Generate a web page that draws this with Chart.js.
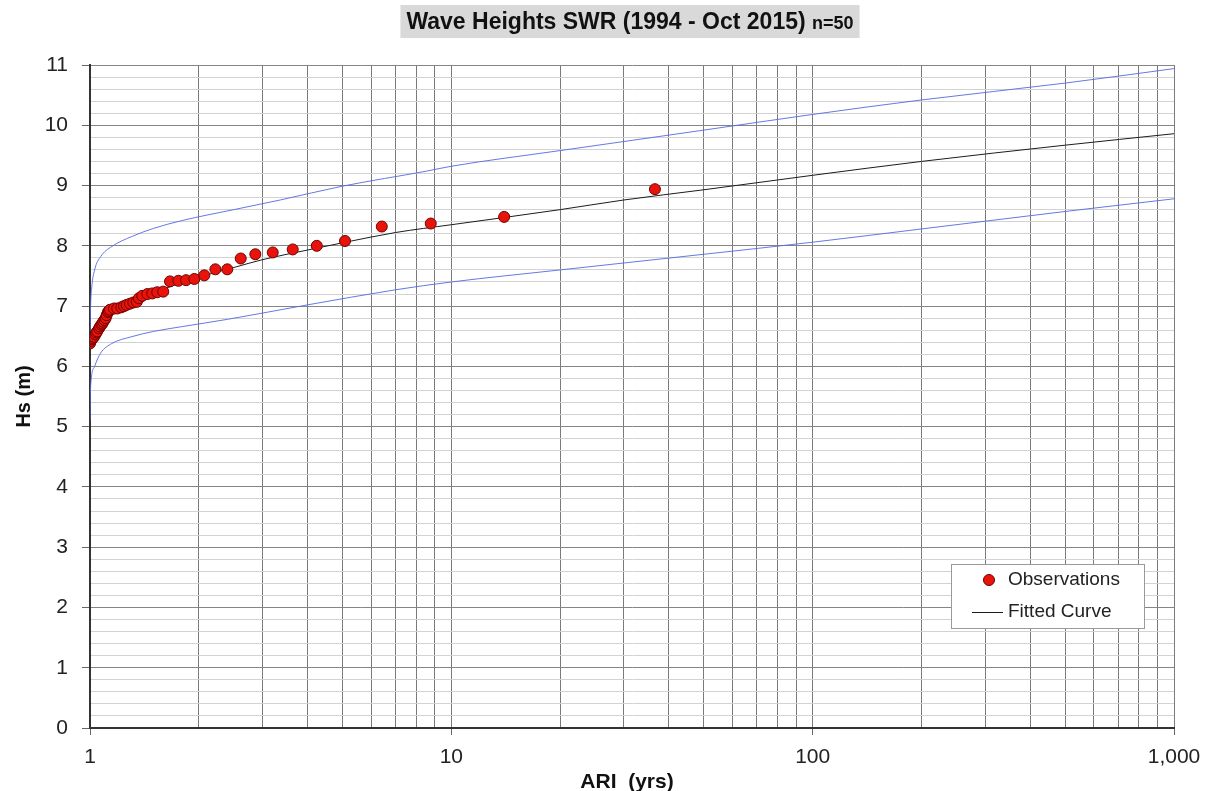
<!DOCTYPE html>
<html>
<head>
<meta charset="utf-8">
<script src="https://cdn.jsdelivr.net/npm/chart.js@4.4.1/dist/chart.umd.min.js"></script>
<style>
html,body{margin:0;padding:0;background:#fff;overflow:hidden}
canvas{display:block}
</style>
</head>
<body>
<canvas id="c" width="1213" height="791"></canvas>
<script>
// ---------- data ----------
const obsARI = [1.000,1.005,1.012,1.018,1.026,1.035,1.041,1.047,1.059,1.066,
                1.075,1.082,1.088,1.097,1.105,1.112,1.121,1.128,1.136,1.165,
                1.190,1.221,1.242,1.263,1.290,1.318,1.347,1.366,1.395,1.441,
                1.487,1.535,1.595,1.665,1.756,1.844,1.944,2.072,2.223,2.399,
                2.613,2.868,3.204,3.639,4.242,5.079,6.42,8.77,14.0,36.6];
const obsHs  = [6.38,6.42,6.45,6.47,6.49,6.53,6.56,6.58,6.63,6.66,
                6.69,6.71,6.74,6.77,6.80,6.85,6.90,6.92,6.94,6.96,
                6.96,6.98,7.00,7.02,7.04,7.06,7.07,7.13,7.17,7.20,
                7.21,7.23,7.24,7.41,7.42,7.43,7.45,7.51,7.61,7.61,
                7.79,7.86,7.89,7.94,8.00,8.08,8.32,8.37,8.48,8.94];

const fitARI = [1.0,1.02,1.05,1.1,1.2,1.3,1.5,1.7,2,2.5,3,4,5,7,10,14,20,30,50,100,200,500,1000];
const fitHs  = [6.38,6.50,6.62,6.78,6.95,7.06,7.22,7.34,7.48,7.64,7.77,7.93,8.05,8.22,8.35,8.47,8.60,8.76,8.93,9.17,9.40,9.67,9.86];

const upperARI = [1.0,1.003,1.01,1.03,1.07,1.15,1.3,1.5,1.8,2.5,3.36,5,8.55,10,20,30,50,100,200,500,1000];
const upperHs  = [6.30,6.90,7.27,7.60,7.82,7.99,8.15,8.29,8.42,8.60,8.76,8.99,9.24,9.32,9.58,9.73,9.92,10.18,10.42,10.70,10.94];

const lowerARI = [1.0,1.002,1.007,1.03,1.07,1.15,1.3,1.5,1.8,2.4,4,7,10,20,50,100,200,500,1000];
const lowerHs  = [5.10,5.50,5.77,6.00,6.22,6.38,6.49,6.58,6.66,6.78,7.02,7.27,7.40,7.60,7.86,8.06,8.28,8.57,8.78];

const xTickValues = [1,2,3,4,5,6,7,8,9,10,20,30,40,50,60,70,80,90,100,200,300,400,500,600,700,800,900,1000];
const xTickLabels = {1:'1',10:'10',100:'100',1000:'1,000'};
const yMin = 0, yMax = 11, yMinorCount = 55; // minor grid every 0.2
const titleMain = 'Wave Heights SWR (1994 - Oct 2015)';
const titleN = 'n=50';
const yTitle = 'Hs (m)';
const xTitle = 'ARI  (yrs)';
const legendLabels = ['Observations', 'Fitted Curve'];

// ---------- build ----------
const FONT = '"Liberation Sans", Arial, sans-serif';
const toXY = (xs, ys) => xs.map((x, i) => ({x: x, y: ys[i]}));
const isInt = v => Math.abs(v - Math.round(v)) < 1e-6;
const yTicks = [];
for (let i = 0; i <= yMinorCount; i++) yTicks.push(+(yMin + i * (yMax - yMin) / yMinorCount).toFixed(2));

const OBS_FILL = '#e8140c', OBS_EDGE = '#6e0000';
const FIT_COLOR = '#1c1c1c';
const BOUND_COLOR = 'rgba(85,105,225,0.9)';

const decor = {
  id: 'decor',
  afterDraw(chart) {
    const ctx = chart.ctx, a = chart.chartArea;
    ctx.save();
    // title with grey box
    const f1 = 'bold 23px ' + FONT, f2 = 'bold 18px ' + FONT;
    ctx.font = f1; const w1 = ctx.measureText(titleMain + ' ').width;
    ctx.font = f2; const w2 = ctx.measureText(titleN).width;
    const cx = (a.left + a.right) / 2 - 2;
    const x0 = cx - (w1 + w2) / 2;
    ctx.fillStyle = '#d9d9d9';
    ctx.fillRect(x0 - 6, 5, w1 + w2 + 12, 33);
    ctx.fillStyle = '#111';
    ctx.textBaseline = 'alphabetic'; ctx.textAlign = 'left';
    ctx.font = f1; ctx.fillText(titleMain + ' ', x0, 29);
    ctx.font = f2; ctx.fillText(titleN, x0 + w1, 29);

    // axis titles
    ctx.fillStyle = '#111';
    ctx.font = 'bold 20px ' + FONT;
    ctx.save();
    ctx.translate(24, (a.top + a.bottom) / 2);
    ctx.rotate(-Math.PI / 2);
    ctx.textAlign = 'center'; ctx.textBaseline = 'middle';
    ctx.fillText(yTitle, 0, 0);
    ctx.restore();
    ctx.font = 'bold 21px ' + FONT;
    ctx.textAlign = 'center'; ctx.textBaseline = 'alphabetic';
    ctx.fillText(xTitle, 627, 788);

    // legend
    const lx = 951, ly = 564, lw = 193, lh = 64;
    ctx.fillStyle = '#fff';
    ctx.fillRect(lx, ly, lw, lh);
    ctx.strokeStyle = '#9a9a9a'; ctx.lineWidth = 1;
    ctx.strokeRect(lx + 0.5, ly + 0.5, lw, lh);
    ctx.beginPath();
    ctx.arc(989, 580, 5.5, 0, Math.PI * 2);
    ctx.fillStyle = OBS_FILL; ctx.fill();
    ctx.strokeStyle = OBS_EDGE; ctx.stroke();
    ctx.beginPath();
    ctx.moveTo(972, 612.5); ctx.lineTo(1003, 612.5);
    ctx.strokeStyle = FIT_COLOR; ctx.stroke();
    ctx.fillStyle = '#222';
    ctx.font = '19px ' + FONT;
    ctx.textAlign = 'left'; ctx.textBaseline = 'middle';
    ctx.fillText(legendLabels[0], 1008, 580);
    ctx.fillText(legendLabels[1], 1008, 612);
    ctx.restore();
  }
};

new Chart(document.getElementById('c'), {
  type: 'scatter',
  data: {
    datasets: [
      {label: legendLabels[0], data: toXY(obsARI, obsHs), backgroundColor: OBS_FILL, borderColor: OBS_EDGE,
       borderWidth: 1, pointRadius: 5.5, pointHoverRadius: 5.5, order: 0},
      {label: legendLabels[1], type: 'line', data: toXY(fitARI, fitHs), borderColor: FIT_COLOR, borderWidth: 1,
       pointRadius: 0, fill: false, cubicInterpolationMode: 'monotone', order: 1},
      {label: 'Upper', type: 'line', data: toXY(upperARI, upperHs), borderColor: BOUND_COLOR, borderWidth: 1,
       pointRadius: 0, fill: false, cubicInterpolationMode: 'monotone', order: 2},
      {label: 'Lower', type: 'line', data: toXY(lowerARI, lowerHs), borderColor: BOUND_COLOR, borderWidth: 1,
       pointRadius: 0, fill: false, cubicInterpolationMode: 'monotone', order: 3}
    ]
  },
  options: {
    responsive: false, animation: false, devicePixelRatio: 1,
    layout: {padding: {left: 0, right: 39, top: 65, bottom: 0}},
    plugins: {legend: {display: false}, title: {display: false}, tooltip: {enabled: false}},
    scales: {
      x: {
        type: 'logarithmic', min: 1, max: 1000,
        afterBuildTicks: s => { s.ticks = xTickValues.map(v => ({value: v})); },
        afterFit: s => { s.height = 63; },
        ticks: {autoSkip: false, maxRotation: 0, minRotation: 0, padding: 10, color: '#222',
                font: {family: FONT, size: 21}, callback: v => xTickLabels[v] || ''},
        grid: {color: '#7a7a7a', lineWidth: 1, tickLength: 7,
               tickColor: c => (c.tick && xTickLabels[c.tick.value]) ? '#666' : 'rgba(0,0,0,0)'},
        border: {color: '#333', width: 2}
      },
      y: {
        min: yMin, max: yMax,
        afterBuildTicks: s => { s.ticks = yTicks.map(v => ({value: v})); },
        afterFit: s => { s.width = 90; },
        ticks: {autoSkip: false, padding: 14, color: '#222', font: {family: FONT, size: 21},
                callback: v => isInt(v) ? String(Math.round(v)) : ''},
        grid: {lineWidth: 1, tickLength: 8,
               color: c => (c.tick && isInt(c.tick.value)) ? '#858585' : '#d2d2d2',
               tickColor: c => (c.tick && isInt(c.tick.value)) ? '#666' : 'rgba(0,0,0,0)'},
        border: {color: '#333', width: 2}
      }
    }
  },
  plugins: [decor]
});
</script>
</body>
</html>
